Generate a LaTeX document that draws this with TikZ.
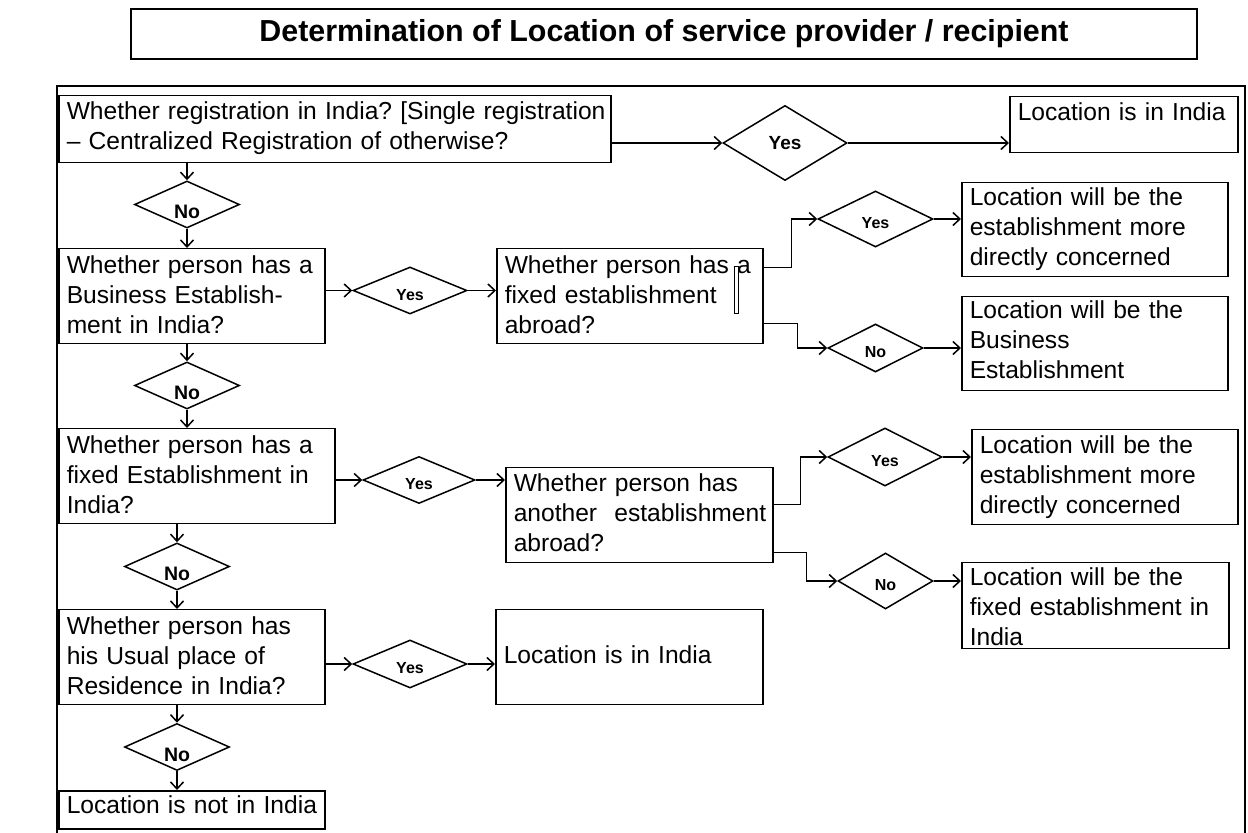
\documentclass[tikz,border=0pt]{standalone}
\usepackage{fontspec}
\setmainfont{Liberation Sans}
\usetikzlibrary{shapes.geometric,arrows.meta}
\frenchspacing

\begin{document}
\begin{tikzpicture}[x=0.5pt,y=-0.5pt,line width=0.75pt,>={Straight Barb[length=3.5pt,width=6.5pt]}]
\tikzstyle{box}=[draw,anchor=north west,inner xsep=4pt,inner ysep=0pt,align=left,font=\fontsize{12.3}{15}\selectfont]
\tikzstyle{choice}=[draw,shape=diamond,inner sep=0pt,aspect=2.2,font=\fontsize{8}{9}\selectfont\bfseries,text height=9.8pt,text depth=0pt]
\tikzstyle{nochoice}=[choice,font=\fontsize{9.75}{11}\selectfont\bfseries,text height=14.5pt,minimum width=52.5pt,minimum height=23.5pt]
\useasboundingbox (0,0) rectangle (1248,833);

\node[draw,minimum width=533pt,minimum height=25pt,font=\fontsize{15.2}{18}\selectfont\bfseries] at (664,34) (title) {Determination of Location of service provider / recipient};
\draw (57,845) -- (57,86) -- (1245,86) -- (1245,845);

\node[box,text width=268pt,text height=12pt,text depth=21.5pt] at (58,95) (reg) {\mbox{Whether registration in India? [Single registration}\\-- Centralized Registration of otherwise?};
\node[box,text width=106pt,text height=12pt,text depth=16pt] at (1009,96) (inind) {Location is in India};
\node[box,text width=125pt,text height=12.5pt,text depth=35pt] at (58,248) (bus) {Whether person has a\\Business Establish-\\ment in India?};
\node[box,text width=125pt,text height=12.5pt,text depth=35pt] at (496,248) (fixabr) {Whether person has a\\fixed establishment\\abroad?};
\node[box,text width=125pt,text height=11.5pt,text depth=35.5pt] at (961,182) (moredir) {Location will be the\\establishment more\\directly concerned};
\node[box,text width=125pt,text height=11pt,text depth=36pt] at (961,296) (busest) {Location will be the\\Business\\Establishment};
\node[box,text width=130pt,text height=12.5pt,text depth=35pt] at (58,428) (fixind) {Whether person has a\\fixed Establishment in\\India?};
\node[box,text width=125pt,text height=12.5pt,text depth=35pt] at (58,609) (usual) {Whether person has\\his Usual place of\\Residence in India?};
\node[box,text width=125pt,text height=11.5pt,text depth=7.5pt] at (58,790) (notind) {\mbox{Location is not in India}};
\node[box,text width=125.5pt,text height=12pt,text depth=35.5pt] at (505,467) (anoabr) {Whether person has\\\mbox{another\ \hspace{4.5pt}establishment}\\abroad?};
\node[box,text width=125.5pt,text height=27pt,text depth=20.5pt] at (495,609) (inind2) {Location is in India};
\node[box,text width=125pt,text height=12pt,text depth=35.5pt] at (971,429) (moredir2) {Location will be the\\establishment more\\directly concerned};
\node[box,text width=125.5pt,text height=11.5pt,text depth=31.5pt] at (961,562) (fixest) {Location will be the\\fixed establishment in\\India};

\draw[line width=0.5pt] (734,267) rectangle (738,314);

\node[choice,font=\fontsize{9.5}{11}\selectfont\bfseries,text height=6.8pt,aspect=1.65,minimum width=62pt,minimum height=37.5pt] at (785,143) (yes1) {Yes};
\node[nochoice] at (187,204.5) (no1) {No};
\node[nochoice] at (187,385.5) (no2) {No};
\node[nochoice] at (177,566.5) (no3) {No};
\node[nochoice] at (177,747) (no4) {No};
\node[choice,minimum width=57pt,minimum height=23.5pt] at (410,290.5) (yes2) {Yes};
\node[choice,minimum width=57.5pt,minimum height=28pt] at (875.5,219) (yes3) {Yes};
\node[choice,minimum width=47.5pt,minimum height=24pt] at (875.5,348) (no5) {No};
\node[choice,minimum width=56pt,minimum height=23.5pt] at (419,480) (yes4) {Yes};
\node[choice,minimum width=57pt,minimum height=29pt] at (885,457) (yes5) {Yes};
\node[choice,minimum width=47.5pt,minimum height=28pt] at (885.5,581) (no6) {No};
\node[choice,minimum width=57pt,minimum height=24pt] at (410,664) (yes6) {Yes};

\draw[->] (reg.east |- yes1.west) -- (yes1.west);
\draw[->] (yes1.east) -- (yes1.east -| inind.west);
\draw[->] (no1.north |- reg.south) -- (no1.north);
\draw[->] (no1.south) -- (no1.south |- bus.north);
\draw[->] (no2.north |- bus.south) -- (no2.north);
\draw[->] (no2.south) -- (no2.south |- fixind.north);
\draw[->] (no3.north |- fixind.south) -- (no3.north);
\draw[->] (no3.south) -- (no3.south |- usual.north);
\draw[->] (no4.north |- usual.south) -- (no4.north);
\draw[->] (no4.south) -- (no4.south |- notind.north);

\draw[->] (bus.east |- yes2.west) -- (yes2.west);
\draw[->] (yes2.east) -- (yes2.east -| fixabr.west);
\draw[->] ([yshift=14.25pt]fixabr.east) -- ++(28,0) |- (yes3.west);
\draw[->] ([yshift=-13.75pt]fixabr.east) -- ++(34,0) |- (no5.west);
\draw[->] (yes3.east) -- (yes3.east -| moredir.west);
\draw[->] (no5.east) -- (no5.east -| busest.west);

\draw[->] (fixind.east |- yes4.west) -- (yes4.west);
\draw[->] (yes4.east) -- (yes4.east -| anoabr.west);
\draw[->] ([yshift=5.25pt]anoabr.east) -- ++(27,0) |- (yes5.west);
\draw[->] ([yshift=-18.75pt]anoabr.east) -- ++(33,0) |- (no6.west);
\draw[->] (yes5.east) -- (yes5.east -| moredir2.west);
\draw[->] (no6.east) -- (no6.east -| fixest.west);

\draw[->] (usual.east |- yes6.west) -- (yes6.west);
\draw[->] (yes6.east) -- (yes6.east -| inind2.west);
\end{tikzpicture}
\end{document}
